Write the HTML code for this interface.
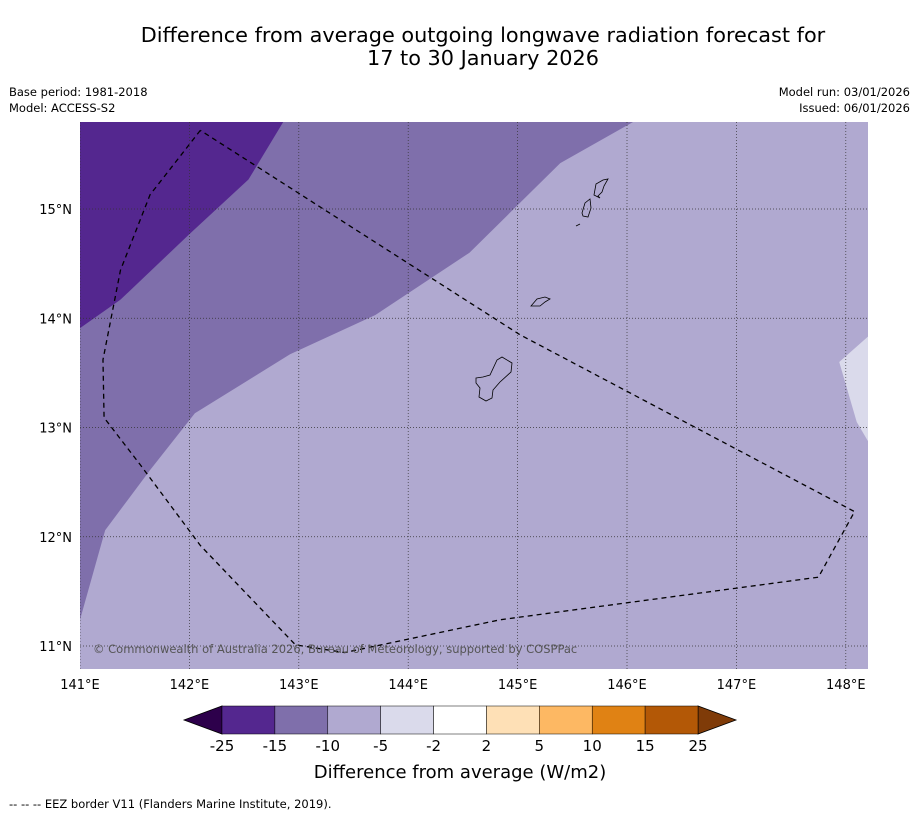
<!DOCTYPE html>
<html><head><meta charset="utf-8"><style>
body{margin:0;background:#fff;font-family:"DejaVu Sans","Liberation Sans",sans-serif;}
svg{display:block;font-family:"DejaVu Sans","Liberation Sans",sans-serif;}
</style></head><body>
<svg width="919" height="816" xmlns="http://www.w3.org/2000/svg" id="chart">
<text x="483" y="42" text-anchor="middle" font-size="20.8">Difference from average outgoing longwave radiation forecast for</text>
<text x="483" y="65" text-anchor="middle" font-size="20.8">17 to 30 January 2026</text>
<text x="9" y="96" font-size="11.5">Base period: 1981-2018</text>
<text x="9" y="112" font-size="11.5">Model: ACCESS-S2</text>
<text x="910" y="96" font-size="11.5" text-anchor="end">Model run: 03/01/2026</text>
<text x="910" y="112" font-size="11.5" text-anchor="end">Issued: 06/01/2026</text>
<defs><clipPath id="mapclip"><rect x="80" y="122" width="788" height="547"/></clipPath></defs>
<g id="map" clip-path="url(#mapclip)"></g>
<g id="axes"></g>
<text x="93" y="653" font-size="11.5" fill="#555">© Commonwealth of Australia 2026, Bureau of Meteorology, supported by COSPPac</text>
<g id="cbar"></g>
<text x="460" y="778" text-anchor="middle" font-size="18">Difference from average (W/m2)</text>
<text x="9" y="808" font-size="11.5">--  --  -- EEZ border V11 (Flanders Marine Institute, 2019).</text>
</svg>
<script>
const lonTicks=[141,142,143,144,145,146,147,148];
const latTicks=[11,12,13,14,15];
const darkRegion=[[141,15.85],[142.89,15.85],[142.54,15.27],[142.0,14.77],[141.37,14.17],[141,13.91]];
const midRegion=[[141,15.85],[146.15,15.85],[145.39,15.42],[144.56,14.6],[143.7,14.03],[142.92,13.67],[142.05,13.13],[141.64,12.61],[141.23,12.06],[141,11.24]];
const lightestRegion=[[148.3,13.9],[148.2,13.83],[147.94,13.6],[148.1,13.05],[148.2,12.88],[148.3,12.8]];
const eezBorder=[[142.10,15.72],[141.64,15.13],[141.37,14.44],[141.21,13.62],[141.22,13.09],[141.55,12.66],[142.10,11.92],[142.97,11.01],[143.42,10.94],[144.84,11.24],[147.75,11.63],[148.08,12.23],[145.02,13.85],[142.10,15.72]];
const cbLevels=[-25,-15,-10,-5,-2,2,5,10,15,25];
const cbColors=["#54278f","#7f6fab","#b0a9d0","#dadaeb","#ffffff","#fee0b6","#fdb863","#e08214","#b35806"];
const NS="http://www.w3.org/2000/svg";
const x=lon=>80+(lon-141)*109.4;
const y=lat=>209+(15-lat)*109.25;
function el(t,a,p){const e=document.createElementNS(NS,t);for(const k in a)e.setAttribute(k,a[k]);p.appendChild(e);return e;}
const map=document.getElementById('map'),axes=document.getElementById('axes'),cb=document.getElementById('cbar');
const pts=arr=>arr.map(p=>x(p[0])+','+y(p[1])).join(' ');
let bg=el('rect',{x:80,y:122,width:788,height:547,fill:'#b0a9d0'},map);


let r1=el('polygon',{points:pts(midRegion),fill:'#7f6fab'},map);


let r2=el('polygon',{points:pts(darkRegion),fill:'#54278f'},map);


let r3=el('polygon',{points:pts(lightestRegion),fill:'#dadaeb'},map);


const isl=["M476,378 L483,377 L490,375 L497,360 L502,357 L512,363 L511,372 L500,382 L493,390 L492,398 L486,401 L479,397 L480,388 L476,383 Z","M531,306 L537,299 L545,297 L550,299 L545,302 L540,306 Z","M582,213 L585,203 L590,199 L591,208 L588,217 L583,216 Z","M594,195 L596,184 L603,180 L608,179 L604,186 L602,192 L598,196 L600,198 Z","M576,226 L580,224"];
isl.forEach(d=>{let p=el('path',{d:d,fill:'#b0a9d0',stroke:'#000','stroke-width':0.8},map);

});
lonTicks.forEach(v=>{let l=el('line',{x1:x(v),x2:x(v),y1:122,y2:669,stroke:'#333','stroke-width':0.7,'stroke-dasharray':'1,2'},map);


let t=el('text',{x:x(v),y:689,'text-anchor':'middle','font-size':13},axes);t.textContent=v+'°E';

});
latTicks.forEach(v=>{let l=el('line',{x1:80,x2:868,y1:y(v),y2:y(v),stroke:'#333','stroke-width':0.7,'stroke-dasharray':'1,2'},map);


let t=el('text',{x:72,y:y(v)+5,'text-anchor':'end','font-size':13},axes);t.textContent=v+'°N';

});
let ez=el('polyline',{points:pts(eezBorder),fill:'none',stroke:'#000','stroke-width':1.3,'stroke-dasharray':'5,4'},map);


const cx0=222,cw=(698-222)/cbColors.length,cy=706,ch=28;
let le=el('polygon',{points:`184,${cy+ch/2} ${cx0},${cy} ${cx0},${cy+ch}`,fill:'#2d004b',stroke:'#000','stroke-width':0.8},cb);


let re=el('polygon',{points:`736,${cy+ch/2} 698,${cy} 698,${cy+ch}`,fill:'#7f3b08',stroke:'#000','stroke-width':0.8},cb);


cbColors.forEach((c,i)=>{let r=el('rect',{x:cx0+i*cw,y:cy,width:cw,height:ch,fill:c,stroke:'#000','stroke-width':0.5},cb);

});
cbLevels.forEach((v,i)=>{let t=el('text',{x:cx0+i*cw,y:751,'text-anchor':'middle','font-size':15},cb);t.textContent=v;

});
</script>
</body></html>
